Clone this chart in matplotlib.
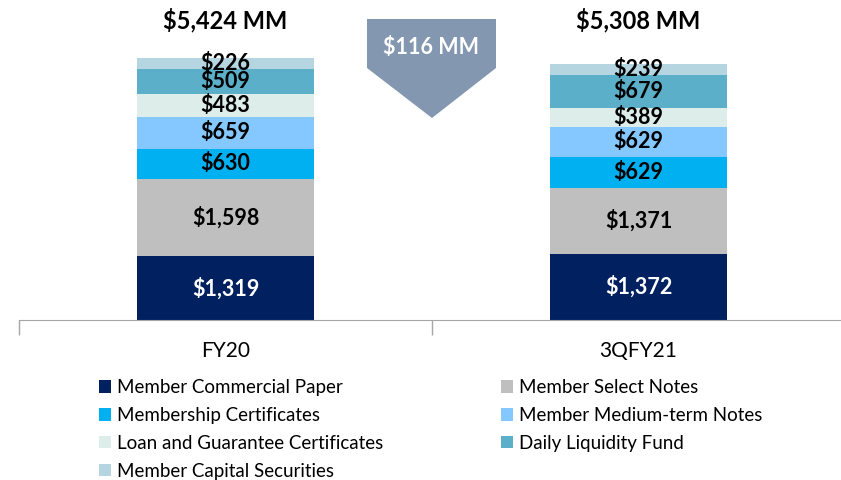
import numpy as np
import matplotlib.pyplot as plt
from matplotlib.patches import Polygon, Patch

plt.rcParams['font.family'] = ['Lato', 'DejaVu Sans']

periods = ['FY20', '3QFY21']
series = ['Member Commercial Paper', 'Member Select Notes', 'Membership Certificates',
          'Member Medium-term Notes', 'Loan and Guarantee Certificates',
          'Daily Liquidity Fund', 'Member Capital Securities']
fy20 = [1319, 1598, 630, 659, 483, 509, 226]
q3fy21 = [1372, 1371, 629, 629, 389, 679, 239]
totals = ['$5,424 MM', '$5,308 MM']
change_label = '$116 MM'
colors = ['#002060', '#BFBFBF', '#00B0F0', '#85C8FF', '#DDEDEA', '#5BAFC9', '#B5D5E0']

px = 1 / 100
fig = plt.figure(figsize=(841 * px, 480 * px), dpi=100)
ax = fig.add_axes([19 / 841, 160 / 480, 826 / 841, 320 / 480])

data = np.array([fy20, q3fy21]).T
x = np.arange(len(periods))
bottom = np.zeros(len(periods))
for i, name in enumerate(series):
    bars = ax.bar(x, data[i], 0.43, bottom=bottom, color=colors[i], label=name)
    tc = 'white' if i == 0 else 'black'
    for j, b in enumerate(bars):
        ax.text(b.get_x() + b.get_width() / 2, bottom[j] + data[i][j] / 2,
                '${:,}'.format(data[i][j]), ha='center', va='center',
                fontsize=15.5, fontweight='bold', color=tc)
    bottom += data[i]

for j in range(len(periods)):
    ax.text(x[j], 1 - 20 / 320, totals[j], transform=ax.get_xaxis_transform(),
            ha='center', va='center', fontsize=17, fontweight='bold')

ax.set_xlim(-0.5, 1.5)
ax.set_ylim(0, 320 / 0.0483)
for s in ['top', 'right', 'left']:
    ax.spines[s].set_visible(False)
ax.spines['bottom'].set_color('#A6A6A6')
ax.set_yticks([])
ax.set_xticks(x)
ax.set_xticklabels(periods, fontsize=15)
ax.tick_params(axis='x', length=0, pad=15)
ax.set_xticks([-0.5, 0.5, 1.5], minor=True)
ax.tick_params(axis='x', which='minor', length=11, color='#A6A6A6', width=1)

# change arrow
pts = np.array([[367, 461], [496, 461], [496, 412], [432, 362], [367, 412]]) / [841, 480]
arrow = Polygon(pts, closed=True, facecolor='#8497B0', edgecolor='none',
                transform=fig.transFigure)
fig.patches.append(arrow)
fig.text(431 / 841, 433 / 480, change_label, color='white', fontsize=15.5,
         fontweight='bold', ha='center', va='center')

handles = [Patch(facecolor=c, edgecolor='none') for c in colors]
left_idx = [0, 2, 4, 6]
right_idx = [1, 3, 5]
kw = dict(frameon=False, fontsize=13.5, handlelength=0.65, handleheight=0.65,
          handletextpad=0.3, labelspacing=0.58, borderaxespad=0, borderpad=0)
leg1 = fig.legend([handles[i] for i in left_idx], [series[i] for i in left_idx],
                  loc='upper left', bbox_to_anchor=(99 / 841, 1 - 379 / 480), **kw)
leg2 = fig.legend([handles[i] for i in right_idx], [series[i] for i in right_idx],
                  loc='upper left', bbox_to_anchor=(501 / 841, 1 - 379 / 480), **kw)

plt.savefig('out.png', dpi=100)
plt.close()
